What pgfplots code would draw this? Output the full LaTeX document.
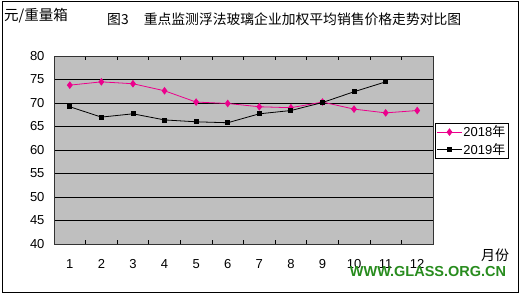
\documentclass[border=0pt]{standalone}
\usepackage{pgfplots}
\pgfplotsset{compat=1.18}
\usepackage{fontspec}
\setmainfont{Liberation Sans}
\newfontfamily\cjk{Noto Sans CJK SC}
\definecolor{wm}{RGB}{40,140,30}
\begin{document}
\begin{tikzpicture}
\useasboundingbox (0pt,0pt) rectangle (521pt,295pt);
\draw[line width=0.9pt] (2pt,3pt) rectangle (518pt,294pt);
\node[anchor=west, inner sep=0pt, font=\cjk\fontsize{14.5}{15}\selectfont] at (4pt,279pt) {元/重量箱};
\node[anchor=west, inner sep=0pt, font=\cjk\fontsize{13.8}{14}\selectfont] at (107pt,276pt) {图3\hspace{1.1em}重点监测浮法玻璃企业加权平均销售价格走势对比图};
\begin{axis}[
  at={(54pt,51pt)}, anchor=south west, scale only axis,
  width=379pt, height=188pt,
  xmin=0.5, xmax=12.5, ymin=40, ymax=80,
  xtick={1,...,12}, ytick={40,45,...,80},
  minor xtick={1.5,2.5,...,11.5},
  major tick length=0pt, minor tick length=4pt,
  minor tick style={black, line width=0.6pt},
  ymajorgrids, grid style={black, line width=0.6pt},
  axis background/.style={fill=gray!50},
  axis line style={black!80, line width=0.7pt},
  /pgf/number format/assume math mode=true,
  tick label style={font=\fontsize{13}{13}\selectfont},
  xticklabel style={yshift=-12pt},
  yticklabel style={xshift=-6pt},
  legend style={at={(1.005,0.455)}, anchor=south west, draw=black, fill=white,
    font=\fontsize{13}{13}\selectfont, inner sep=1.5pt, row sep=3pt,
    nodes={inner sep=1pt}},
  legend cell align=left,
  legend image code/.code={\draw[#1] (0pt,0pt) -- (25pt,0pt); \draw[#1, mark repeat=2, mark phase=2] plot coordinates {(0pt,0pt) (12.5pt,0pt) (25pt,0pt)};},
]
\addplot[magenta, line width=0.8pt, mark=diamond*, mark size=3.2pt, mark options={solid, fill=magenta}] coordinates {
(1,73.8) (2,74.5) (3,74.1) (4,72.6) (5,70.2) (6,69.9) (7,69.2) (8,69.0) (9,70.2) (10,68.7) (11,67.9) (12,68.4)};
\addlegendentry{2018{\cjk 年}}
\addplot[black, line width=0.8pt, mark=square*, mark size=2pt, mark options={solid, fill=black}] coordinates {
(1,69.2) (2,67.0) (3,67.7) (4,66.4) (5,66.0) (6,65.8) (7,67.7) (8,68.4) (9,70.1) (10,72.4) (11,74.5)};
\addlegendentry{2019{\cjk 年}}
\end{axis}
\node[inner sep=0pt, font=\cjk\fontsize{14}{14}\selectfont] at (495pt,40pt) {月份};
\node[inner sep=0pt, font=\bfseries\fontsize{14.5}{14}\selectfont, text=wm] at (428pt,23pt) {WWW.GLASS.ORG.CN};
\end{tikzpicture}
\end{document}
